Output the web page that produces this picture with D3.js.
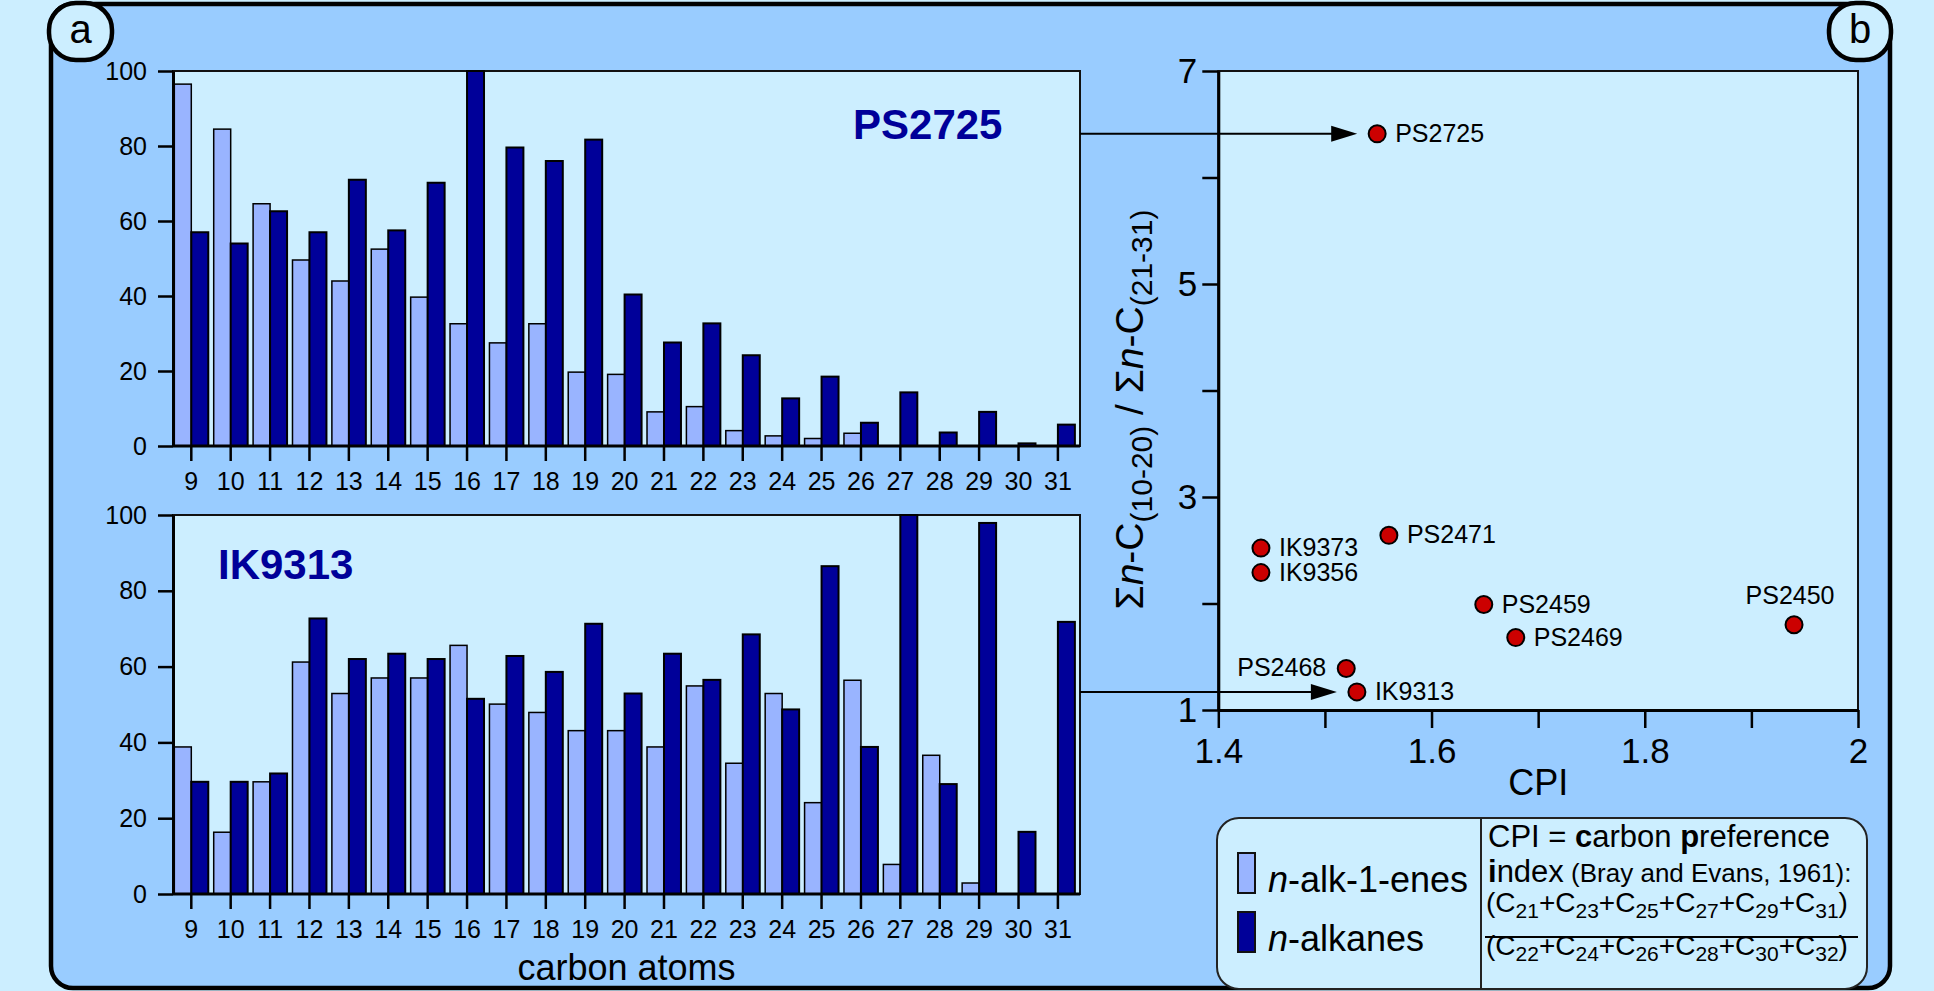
<!DOCTYPE html>
<html><head><meta charset="utf-8">
<script src="https://cdn.jsdelivr.net/npm/d3@7"></script>
<style>
html,body{margin:0;padding:0;background:#cceeff;}
svg{display:block;font-family:"Liberation Sans",Arial,Helvetica,sans-serif;}
svg text{white-space:pre;}
</style></head><body>
<svg id="chart" width="1934" height="991"></svg>
<script>
// ---------- data ----------
const carbonAtoms = [9,10,11,12,13,14,15,16,17,18,19,20,21,22,23,24,25,26,27,28,29,30,31];
const seriesNames = ["n-alk-1-enes","n-alkanes"];
const ps2725Alkenes = [96.5,84.5,64.6,49.6,44,52.5,39.7,32.6,27.5,32.6,19.7,19.1,9.1,10.5,4.1,2.7,2.0,3.4,0,0,0,0,0];
const ps2725Alkanes = [57,54,62.6,57,71,57.5,70.2,100,79.6,76,81.7,40.4,27.6,32.7,24.2,12.7,18.5,6.2,14.3,3.6,9.1,0.7,5.7];
const ik9313Alkenes = [38.8,16.3,29.6,61.2,52.9,57,57,65.6,50.1,47.9,43.1,43.1,38.8,54.9,34.5,52.9,24.1,56.4,7.8,36.6,2.9,0,0];
const ik9313Alkanes = [29.6,29.6,31.8,72.7,62,63.4,62,51.5,62.8,58.6,71.3,52.9,63.4,56.5,68.5,48.7,86.5,38.8,100,29,97.9,16.4,71.8];
const barYTicks = [0,20,40,60,80,100];

const stations = ["PS2725","IK9373","IK9356","PS2471","PS2459","PS2469","PS2450","PS2468","IK9313"];
const cpiValues = [1.549,1.440,1.440,1.560,1.649,1.679,1.940,1.520,1.530];
const ratioValues = [6.41,2.52,2.29,2.64,1.99,1.68,1.80,1.39,1.17];
const cpiTicks = [1.4,1.5,1.6,1.7,1.8,1.9,2.0];
const cpiTickLabels = ["1.4","","1.6","","1.8","","2"];
const ratioTicks = [1,2,3,4,5,6,7];
const ratioTickLabels = ["1","","3","","5","","7"];

// ---------- styles ----------
const PANEL="#99ccff", PLOT="#cceeff", LIGHT="#99b4ff", DARK="#000099", RED="#cc0000", INK="#000";
const svg = d3.select("#chart");

// main panel
svg.append("rect").attr("x",51).attr("y",4).attr("width",1839).attr("height",984)
  .attr("rx",22).attr("fill",PANEL).attr("stroke",INK).attr("stroke-width",4.5);

function cornerLabel(x, w, txt){
  svg.append("rect").attr("x",x).attr("y",3).attr("width",w).attr("height",57).attr("rx",27)
    .attr("fill",PLOT).attr("stroke",INK).attr("stroke-width",4.5);
  svg.append("text").attr("x",x+w/2).attr("y",43).attr("text-anchor","middle")
    .attr("font-size",40).text(txt);
}
cornerLabel(49,63,"a");
cornerLabel(1829,62,"b");

// ---------- bar charts ----------
const PLOT_L=173, PLOT_R=1080;
const xBand = d3.scaleBand().domain(carbonAtoms).range([171.6,1077.6]);
const xInner = d3.scaleBand().domain(seriesNames).range([0,xBand.bandwidth()]).paddingOuter(0.16);

function barChart(alkenes, alkanes, top, bottom, title, titleX, titleY){
  const y = d3.scaleLinear().domain([0,100]).range([bottom,top]);
  const g = svg.append("g");
  g.append("rect").attr("x",PLOT_L).attr("y",top).attr("width",PLOT_R-PLOT_L).attr("height",bottom-top)
    .attr("fill",PLOT).attr("stroke","#111").attr("stroke-width",2);
  const rows = carbonAtoms.map((c,i)=>({c, vals:[{s:seriesNames[0],v:alkenes[i]},{s:seriesNames[1],v:alkanes[i]}]}));
  const grp = g.selectAll("g.cat").data(rows).join("g").attr("class","cat")
    .attr("transform",d=>`translate(${xBand(d.c)},0)`);
  grp.selectAll("rect").data(d=>d.vals.filter(e=>e.v>0)).join("rect")
    .attr("x",d=>xInner(d.s)).attr("width",xInner.bandwidth())
    .attr("y",d=>y(d.v)).attr("height",d=>bottom-y(d.v))
    .attr("fill",d=>d.s===seriesNames[0]?LIGHT:DARK)
    .attr("stroke","#000").attr("stroke-width",d=>d.s===seriesNames[0]?1.5:2);
  const ya = g.append("g").attr("transform",`translate(${PLOT_L},0)`)
    .call(d3.axisLeft(y).tickValues(barYTicks).tickSize(15).tickSizeOuter(0).tickPadding(11));
  const xa = g.append("g").attr("transform",`translate(0,${bottom})`)
    .call(d3.axisBottom(xBand).tickSize(15).tickSizeOuter(0).tickPadding(11.2));
  [ya,xa].forEach(a=>{
    a.select(".domain").attr("stroke","#000").attr("stroke-width",3);
    a.selectAll(".tick line").attr("stroke","#000").attr("stroke-width",2.5);
    a.selectAll(".tick text").attr("font-size",25).attr("fill","#000")
      .attr("font-family","'Liberation Sans',Arial,sans-serif");
  });
  xa.select(".domain").attr("d",`M${PLOT_L},0H${PLOT_R}`);
  g.append("text").attr("x",titleX).attr("y",titleY).attr("font-size",42).attr("font-weight","bold")
    .attr("fill",DARK).text(title);
  return y;
}
barChart(ps2725Alkenes, ps2725Alkanes, 71, 446, "PS2725", 853, 139);
barChart(ik9313Alkenes, ik9313Alkanes, 515, 894, "IK9313", 218, 579);

svg.append("text").attr("x",(PLOT_L+PLOT_R)/2).attr("y",980).attr("text-anchor","middle")
  .attr("font-size",36).text("carbon atoms");

// ---------- scatter ----------
const sx = d3.scaleLinear().domain([1.4,2]).range([1218.3,1858]);
const sy = d3.scaleLinear().domain([1,7]).range([710,71]);
const sg = svg.append("g");
sg.append("rect").attr("x",sx(1.4)).attr("y",sy(7)).attr("width",sx(2)-sx(1.4)).attr("height",sy(1)-sy(7))
  .attr("fill",PLOT).attr("stroke","#111").attr("stroke-width",2);
const sxa = sg.append("g").attr("transform",`translate(0,${sy(1)})`)
  .call(d3.axisBottom(sx).tickValues(cpiTicks).tickSize(18).tickSizeOuter(0).tickPadding(10)
    .tickFormat((d,i)=>cpiTickLabels[i]));
const sya = sg.append("g").attr("transform",`translate(${sx(1.4)},0)`)
  .call(d3.axisLeft(sy).tickValues(ratioTicks).tickSize(16).tickSizeOuter(0).tickPadding(5)
    .tickFormat((d,i)=>ratioTickLabels[i]));
[sxa,sya].forEach(a=>{
  a.select(".domain").attr("stroke","#000").attr("stroke-width",3);
  a.selectAll(".tick line").attr("stroke","#000").attr("stroke-width",2.5);
  a.selectAll(".tick text").attr("font-size",35).attr("fill","#000")
    .attr("font-family","'Liberation Sans',Arial,sans-serif");
});
sg.append("text").attr("x",(sx(1.4)+sx(2))/2).attr("y",795).attr("text-anchor","middle")
  .attr("font-size",36).text("CPI");

// y title
const yt = sg.append("text").attr("transform",`translate(1143,${(sy(1)+sy(7))/2+19}) rotate(-90)`)
  .attr("text-anchor","middle").attr("font-size",39);
yt.append("tspan").text("Σ");
yt.append("tspan").attr("font-style","italic").text("n");
yt.append("tspan").text("-C");
yt.append("tspan").attr("font-size",30).attr("dy",9).text("(10-20)");
yt.append("tspan").attr("dy",-9).text(" / Σ");
yt.append("tspan").attr("font-style","italic").text("n");
yt.append("tspan").text("-C");
yt.append("tspan").attr("font-size",30).attr("dy",9).text("(21-31)");

// arrows from bar charts to their points
["PS2725","IK9313"].forEach(name=>{
  const i = stations.indexOf(name);
  const ty = sy(ratioValues[i]);
  const tx = sx(cpiValues[i]) - 20;
  sg.append("line").attr("x1",PLOT_R).attr("x2",tx-20).attr("y1",ty).attr("y2",ty)
    .attr("stroke","#000").attr("stroke-width",2);
  sg.append("path").attr("d",`M${tx},${ty}L${tx-26},${ty-8}L${tx-26},${ty+8}Z`).attr("fill","#000");
});

// points
const pts = stations.map((s,i)=>({s, x:sx(cpiValues[i]), y:sy(ratioValues[i])}));
sg.selectAll("circle.pt").data(pts).join("circle").attr("class","pt")
  .attr("cx",d=>d.x).attr("cy",d=>d.y).attr("r",8.5)
  .attr("fill",RED).attr("stroke","#000").attr("stroke-width",2);
const leftLabels = new Set(["PS2468"]), aboveLabels = new Set(["PS2450"]);
sg.selectAll("text.pl").data(pts).join("text").attr("class","pl")
  .attr("font-size",25)
  .attr("x",d=>aboveLabels.has(d.s)?d.x-4:leftLabels.has(d.s)?d.x-20:d.x+18)
  .attr("y",d=>aboveLabels.has(d.s)?d.y-21:d.y+8)
  .attr("text-anchor",d=>aboveLabels.has(d.s)?"middle":leftLabels.has(d.s)?"end":"start")
  .text(d=>d.s);

// ---------- legend ----------
const lg = svg.append("g");
lg.append("rect").attr("x",1217).attr("y",818).attr("width",650).attr("height",171).attr("rx",22)
  .attr("fill",PLOT).attr("stroke","#222").attr("stroke-width",2);
lg.append("line").attr("x1",1481).attr("x2",1481).attr("y1",818).attr("y2",989)
  .attr("stroke","#222").attr("stroke-width",2);
const legendY = [853, 912];
seriesNames.forEach((s,i)=>{
  lg.append("rect").attr("x",1238).attr("y",legendY[i]).attr("width",17).attr("height",40)
    .attr("fill",i===0?LIGHT:DARK).attr("stroke","#111").attr("stroke-width",2);
  const t = lg.append("text").attr("x",1268).attr("y",legendY[i]+39).attr("font-size",36);
  t.append("tspan").attr("font-style","italic").text(s.slice(0,1));
  t.append("tspan").text(s.slice(1));
});
// CPI definition
const l1 = lg.append("text").attr("x",1488).attr("y",847).attr("font-size",31);
l1.append("tspan").text("CPI = ");
l1.append("tspan").attr("font-weight","bold").text("c");
l1.append("tspan").text("arbon ");
l1.append("tspan").attr("font-weight","bold").text("p");
l1.append("tspan").text("reference");
const l2 = lg.append("text").attr("x",1488).attr("y",882).attr("font-size",31);
l2.append("tspan").attr("font-weight","bold").text("i");
l2.append("tspan").text("ndex");
l2.append("tspan").attr("font-size",26).text(" (Bray and Evans, 1961):");
function formula(y, nums){
  const t = lg.append("text").attr("x",1486).attr("y",y).attr("font-size",28);
  t.append("tspan").text("(");
  nums.forEach((n,i)=>{
    t.append("tspan").attr("dy",i===0?0:-6).text((i===0?"":"+")+"C");
    t.append("tspan").attr("font-size",21).attr("dy",6).text(n);
  });
  t.append("tspan").attr("dy",-6).text(")");
}
formula(912, ["21","23","25","27","29","31"]);
formula(955, ["22","24","26","28","30","32"]);
lg.append("line").attr("x1",1485).attr("x2",1858).attr("y1",937).attr("y2",937)
  .attr("stroke","#000").attr("stroke-width",2);
</script>
</body></html>
